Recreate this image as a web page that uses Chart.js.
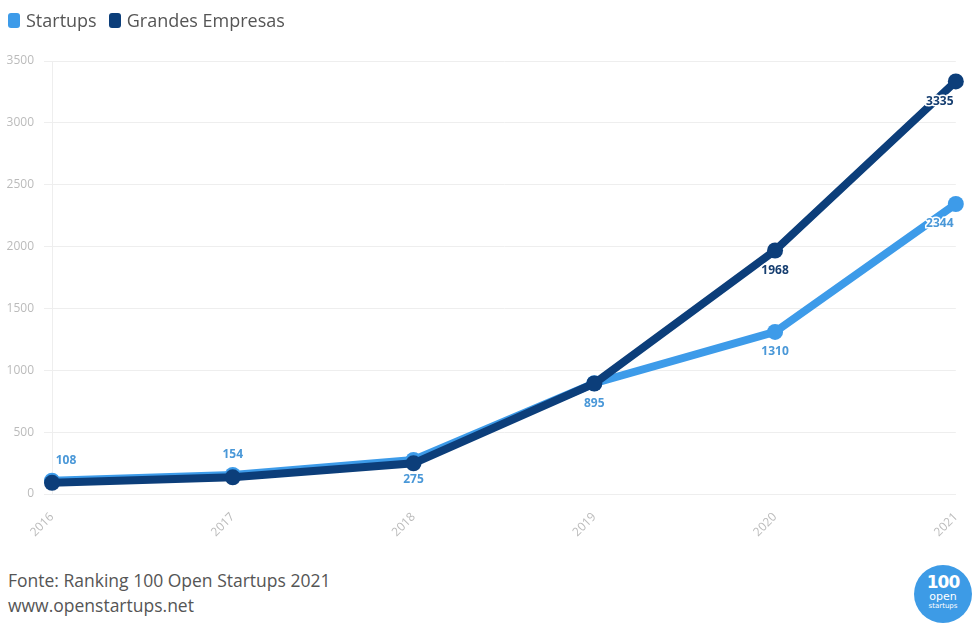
<!DOCTYPE html>
<html>
<head>
<meta charset="utf-8">
<script src="https://cdn.jsdelivr.net/npm/chart.js@4/dist/chart.umd.min.js"></script>
<style>
  body { margin: 0; background: #fff; font-family: 'Open Sans', sans-serif; }
  #wrap { position: relative; width: 974px; height: 632px; }
  #chartBox { position: absolute; left: 0; top: 0; width: 974px; height: 550px; }
  .legend { position: absolute; left: 8px; top: 8px; font-size: 18px; color: #555; display: flex; align-items: center; }
  .legend span.box { display: inline-block; width: 12px; height: 15px; border-radius: 3px; margin-right: 6px; }
  .legend span.item { display: flex; align-items: center; margin-right: 12px; }
  .footer { position: absolute; left: 8px; top: 568px; font-size: 17.5px; color: #555; line-height: 25px; }
  .logo { position: absolute; left: 914px; top: 565px; width: 58px; height: 58px; border-radius: 50%;
          background: #3d9be6; color: #fff; text-align: center; font-family: 'DejaVu Sans', sans-serif; }
  .logo b { display: block; font-size: 17px; line-height: 17px; margin-top: 9px; letter-spacing: -1px; }
  .logo i { display: block; font-style: normal; font-size: 11px; line-height: 11px; }
  .logo small { display: block; font-size: 7px; line-height: 8px; }
</style>
</head>
<body>
<div id="wrap">
  <div id="chartBox"><canvas id="lineChart"></canvas></div>
  <div class="legend">
    <span class="item"><span class="box" style="background:#3d9be9"></span>Startups</span>
    <span class="item"><span class="box" style="background:#0c3e7a"></span>Grandes Empresas</span>
  </div>
  <div class="footer">Fonte: Ranking 100 Open Startups 2021<br>www.openstartups.net</div>
  <div class="logo"><b>100</b><i>open</i><small>startups</small></div>
</div>
<script>
// Dados
const anos     = ['2016', '2017', '2018', '2019', '2020', '2021'];
const startups = [108, 154, 275, 895, 1310, 2344];
const grandes  = [90, 135, 248, 893, 1968, 3335];
const yTicks   = [0, 500, 1000, 1500, 2000, 2500, 3000, 3500];

// Rótulos: 'a' acima, 'b' abaixo, null sem rótulo
const rotStartups = ['a', 'a', 'b', 'b', 'b', 'b'];
const rotGrandes  = [null, null, null, null, 'b', 'b'];

const corStartups = '#3d9be9';
const corGrandes  = '#0c3e7a';

const labelsPlugin = {
  id: 'pointLabels',
  afterDatasetsDraw(chart) {
    const ctx = chart.ctx;
    chart.data.datasets.forEach((ds, i) => {
      const meta = chart.getDatasetMeta(i);
      meta.data.forEach((pt, j) => {
        const pos = ds.rotulos[j];
        if (!pos) return;
        let x = pt.x, y = pt.y + (pos === 'a' ? -20 : 20);
        if (j === ds.data.length - 1) x -= 16;
        if (j === 0) x += 14;
        ctx.save();
        ctx.font = 'bold 12px "Open Sans"';
        ctx.textAlign = 'center';
        ctx.textBaseline = 'middle';
        ctx.lineWidth = 3;
        ctx.strokeStyle = '#fff';
        ctx.strokeText(ds.data[j], x, y);
        ctx.fillStyle = ds.labelColor;
        ctx.fillText(ds.data[j], x, y);
        ctx.restore();
      });
    });
  }
};

new Chart(document.getElementById('lineChart'), {
  type: 'line',
  data: {
    labels: anos,
    datasets: [{
      label: 'Startups',
      data: startups,
      rotulos: rotStartups,
      labelColor: '#4a98d8',
      borderColor: corStartups,
      backgroundColor: corStartups,
      borderWidth: 8,
      pointRadius: 8,
      pointBackgroundColor: corStartups,
      pointBorderWidth: 0,
      tension: 0,
      order: 1,
      clip: false
    }, {
      label: 'Grandes Empresas',
      data: grandes,
      rotulos: rotGrandes,
      labelColor: '#163e70',
      borderColor: corGrandes,
      backgroundColor: corGrandes,
      borderWidth: 8,
      pointRadius: 8,
      pointBackgroundColor: corGrandes,
      pointBorderWidth: 0,
      tension: 0,
      order: 0,
      clip: false
    }]
  },
  options: {
    responsive: true,
    maintainAspectRatio: false,
    animation: false,
    layout: { padding: { top: 61, right: 12, left: 0, bottom: 0 } },
    plugins: { legend: { display: false }, tooltip: { enabled: false } },
    scales: {
      x: {
        offset: false,
        grid: { display: false },
        border: { color: '#eee' },
        ticks: { font: { size: 12, family: 'Open Sans' }, color: '#bbb', minRotation: 45, maxRotation: 45, padding: 8 },
        afterFit: s => { s.height = 56; }
      },
      y: {
        min: 0,
        max: 3500,
        afterBuildTicks: s => { s.ticks = yTicks.map(v => ({ value: v })); },
        grid: { color: '#eee' },
        border: { color: '#eee' },
        ticks: { font: { size: 12, family: 'Open Sans' }, color: '#bbb', padding: 10, callback: v => String(v) },
        afterFit: s => { s.width = 52; }
      }
    }
  },
  plugins: [labelsPlugin]
});
</script>
</body>
</html>
